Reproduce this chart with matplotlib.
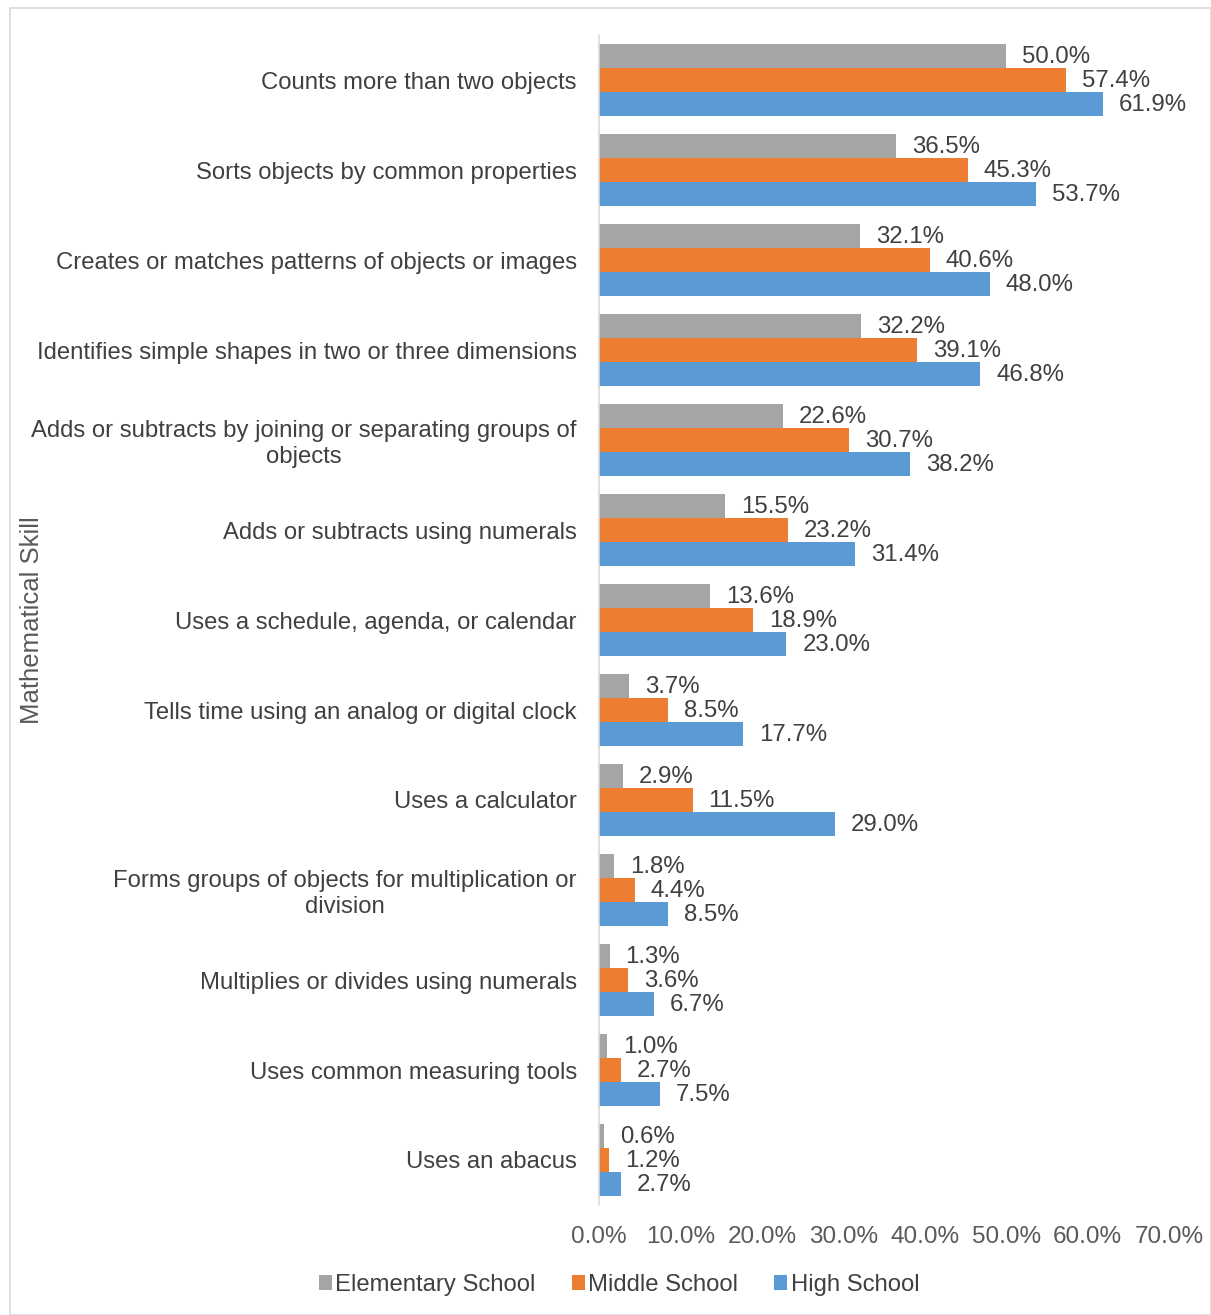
import matplotlib.pyplot as plt
import numpy as np
from matplotlib.patches import Rectangle
from matplotlib.ticker import FuncFormatter

plt.rcParams['font.family'] = ['Liberation Sans', 'DejaVu Sans']

skills = [
    "Counts more than two objects",
    "Sorts objects by common properties",
    "Creates or matches patterns of objects or images",
    "Identifies simple shapes in two or three dimensions",
    "Adds or subtracts by joining or separating groups of\nobjects",
    "Adds or subtracts using numerals",
    "Uses a schedule, agenda, or calendar",
    "Tells time using an analog or digital clock",
    "Uses a calculator",
    "Forms groups of objects for multiplication or\ndivision",
    "Multiplies or divides using numerals",
    "Uses common measuring tools",
    "Uses an abacus",
]
elementary = [50.0, 36.5, 32.1, 32.2, 22.6, 15.5, 13.6, 3.7, 2.9, 1.8, 1.3, 1.0, 0.6]
middle = [57.4, 45.3, 40.6, 39.1, 30.7, 23.2, 18.9, 8.5, 11.5, 4.4, 3.6, 2.7, 1.2]
high = [61.9, 53.7, 48.0, 46.8, 38.2, 31.4, 23.0, 17.7, 29.0, 8.5, 6.7, 7.5, 2.7]
x_ticks = [0, 10, 20, 30, 40, 50, 60, 70]

series = [
    ("Elementary School", elementary, "#A5A5A5"),
    ("Middle School", middle, "#ED7D31"),
    ("High School", high, "#5B9BD5"),
]

W, H = 1211, 1315
fig = plt.figure(figsize=(W / 100, H / 100), dpi=100)
ax = fig.add_axes([599 / W, 1 - 1205 / H, (1169 - 599) / W, (1205 - 35) / H])

y = np.arange(len(skills))
bh = 0.267
for i, (name, vals, col) in enumerate(series):
    pos = y + (i - 1) * bh
    ax.barh(pos, vals, height=bh, color=col, label=name)
    for yy, v in zip(pos, vals):
        ax.annotate(f"{v:.1f}%", (v, yy), xytext=(11.5, -1), textcoords='offset points',
                    va='center', ha='left', fontsize=17.3, color='#404040')

ax.set_ylim(len(skills) - 0.5, -0.5)
ax.set_xlim(0, 70)
ax.set_yticks(y)
ax.set_yticklabels(skills, fontsize=17.2, color='#404040', multialignment='center')
ax.set_xticks(x_ticks)
ax.xaxis.set_major_formatter(FuncFormatter(lambda v, p: f"{v:.1f}%"))
ax.tick_params(axis='x', length=0, pad=15, labelsize=17.5, labelcolor='#595959')
ax.tick_params(axis='y', length=0, pad=16)

for s in ['top', 'right', 'bottom']:
    ax.spines[s].set_visible(False)
ax.spines['left'].set_color('#D9D9D9')
ax.spines['left'].set_linewidth(1.2)

fig.text(32 / W, 1 - 620 / H, "Mathematical Skill", rotation=90, va='center', ha='center',
         fontsize=18.5, color='#595959')

fig.legend(loc='center', bbox_to_anchor=(619 / W, 1 - 1285 / H), ncol=3, frameon=False,
           fontsize=17.2, labelcolor='#404040', handlelength=0.55, handleheight=0.55,
           handletextpad=0.15, columnspacing=1.5)

fig.patches.append(Rectangle((10 / W, 0), 1 - 10 / W, 1 - 8 / H, transform=fig.transFigure,
                             fill=False, edgecolor='#D9D9D9', linewidth=1.2))

fig.savefig("out.png", dpi=100)
